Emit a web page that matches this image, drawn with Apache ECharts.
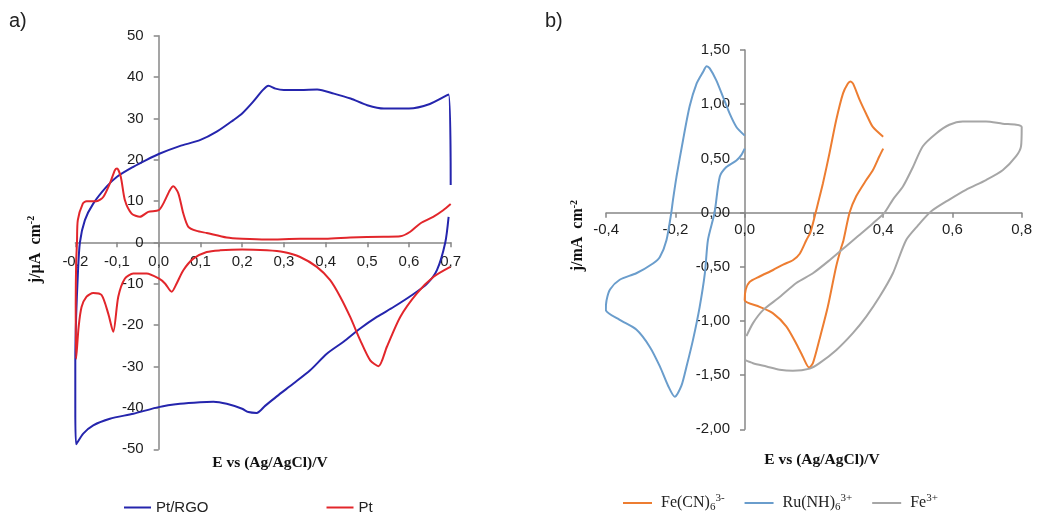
<!DOCTYPE html>
<html><head><meta charset="utf-8">
<script src="https://cdn.jsdelivr.net/npm/echarts@6/dist/echarts.min.js"></script>
<style>html,body{margin:0;padding:0;background:#fff}#c{width:1038px;height:516px}</style>
</head><body><div id="c"></div>
<script>
// ---- Panel a) : j / µA cm-2 vs E (V), [E, j] pairs in scan order ----
const ptRgo = [
  [0.695, 6.2], [0.687, 0], [0.667, -6.7], [0.643, -10], [0.603, -13], [0.563, -15.6], [0.523, -18],
  [0.483, -20.8], [0.443, -24], [0.403, -26.9], [0.363, -30.9], [0.323, -34.1], [0.283, -37.2],
  [0.255, -39.5], [0.235, -41.2], [0.215, -41], [0.2, -40.2], [0.163, -39], [0.131, -38.5],
  [0.099, -38.6], [0.051, -39], [0, -39.8], [-0.061, -41.4], [-0.117, -42.6], [-0.157, -44.2],
  [-0.181, -46.2], [-0.198, -48.8], [-0.2, -40], [-0.2, -28.5], [-0.198, -18], [-0.194, -8],
  [-0.189, 0], [-0.177, 5.4], [-0.157, 9.4], [-0.125, 13.5], [-0.1, 15.9], [-0.061, 18.3],
  [-0.029, 20], [0, 21.4], [0.05, 23.3], [0.1, 24.8], [0.139, 26.8], [0.179, 29.6], [0.2, 31.2],
  [0.226, 34], [0.25, 36.9], [0.263, 37.9], [0.28, 37.2], [0.3, 36.9], [0.34, 36.9], [0.38, 37],
  [0.42, 36], [0.46, 34.8], [0.5, 33.2], [0.54, 32.4], [0.6, 32.4], [0.65, 33.5], [0.695, 35.8],
  [0.7, 13.9]
];
const pt = [
  [0.699, -5.9], [0.659, -8.3], [0.619, -12.3], [0.579, -18], [0.547, -25.2], [0.527, -29.9],
  [0.507, -28.5], [0.483, -23.6], [0.459, -18], [0.435, -13.1], [0.411, -9.1], [0.379, -5.9],
  [0.339, -3.5], [0.299, -2.3], [0.259, -1.9], [0.2, -1.7], [0.147, -1.9], [0.115, -2.3],
  [0.083, -3.9], [0.059, -6.7], [0.043, -9.9], [0.031, -11.9], [0.015, -9.9], [0, -8.7],
  [-0.029, -7.5], [-0.061, -7.5], [-0.081, -8.7], [-0.097, -13.1], [-0.109, -21.6], [-0.121, -17.2],
  [-0.137, -12.7], [-0.157, -12.2], [-0.173, -13.1], [-0.185, -15.6], [-0.192, -20.4], [-0.198, -28.1],
  [-0.199, -15], [-0.198, -5], [-0.196, 0], [-0.194, 5.4], [-0.182, 9.4], [-0.173, 10], [-0.149, 10],
  [-0.133, 11], [-0.117, 14.3], [-0.105, 17.5], [-0.1, 17.9], [-0.091, 15.9], [-0.081, 10.2],
  [-0.065, 7], [-0.045, 6.2], [-0.025, 7.4], [0, 7.8], [0.011, 9.4], [0.027, 12.7], [0.035, 13.6],
  [0.047, 11.9], [0.059, 7], [0.071, 3.8], [0.091, 2.8], [0.115, 2.3], [0.163, 1.2], [0.2, 0.9],
  [0.259, 0.7], [0.339, 0.9], [0.4, 0.9], [0.459, 1.2], [0.539, 1.4], [0.579, 1.5], [0.603, 2.6],
  [0.627, 4.6], [0.658, 6.2], [0.682, 7.8], [0.7, 9.3]
];
// ---- Panel b) : j / mA cm-2 vs E (V) ----
const feCN = [
  [0.4, 0.70], [0.37, 0.79], [0.351, 0.91], [0.332, 1.04], [0.313, 1.19], [0.305, 1.21], [0.298, 1.19],
  [0.284, 1.10], [0.264, 0.85], [0.245, 0.55], [0.226, 0.27], [0.212, 0.09], [0.205, 0], [0.19, -0.18],
  [0.178, -0.255], [0.159, -0.38], [0.139, -0.44], [0.111, -0.48], [0.082, -0.53], [0.043, -0.59],
  [0.014, -0.64], [0.003, -0.71], [0, -0.81], [0.043, -0.87], [0.082, -0.93], [0.12, -1.05],
  [0.149, -1.21], [0.168, -1.33], [0.186, -1.43], [0.197, -1.39], [0.216, -1.17], [0.24, -0.87],
  [0.264, -0.5], [0.279, -0.32], [0.285, -0.26], [0.303, 0], [0.322, 0.15], [0.351, 0.30],
  [0.37, 0.39], [0.389, 0.52], [0.4, 0.59]
];
const ruNH = [
  [0, 0.71], [-0.024, 0.79], [-0.043, 0.91], [-0.063, 1.07], [-0.082, 1.22], [-0.101, 1.33],
  [-0.11, 1.35], [-0.12, 1.30], [-0.139, 1.19], [-0.159, 0.98], [-0.178, 0.67], [-0.197, 0.33],
  [-0.207, 0.12], [-0.212, 0], [-0.226, -0.255], [-0.245, -0.41], [-0.265, -0.47], [-0.313, -0.56],
  [-0.361, -0.62], [-0.389, -0.71], [-0.399, -0.81], [-0.401, -0.90], [-0.361, -0.99], [-0.313, -1.08],
  [-0.274, -1.24], [-0.245, -1.42], [-0.221, -1.60], [-0.202, -1.70], [-0.183, -1.60], [-0.168, -1.42],
  [-0.149, -1.17], [-0.13, -0.87], [-0.115, -0.56], [-0.106, -0.25], [-0.087, 0], [-0.072, 0.33],
  [-0.053, 0.42], [-0.024, 0.48], [-0.01, 0.53], [0, 0.59]
];
const fe3 = [
  [0.005, -1.14], [0.024, -1.02], [0.053, -0.90], [0.101, -0.78], [0.149, -0.65], [0.197, -0.56],
  [0.245, -0.44], [0.293, -0.31], [0.33, -0.21], [0.37, -0.10], [0.404, 0], [0.428, 0.12],
  [0.457, 0.24], [0.486, 0.42], [0.514, 0.61], [0.553, 0.73], [0.591, 0.81], [0.63, 0.84],
  [0.697, 0.84], [0.745, 0.82], [0.784, 0.81], [0.8, 0.79], [0.798, 0.61], [0.784, 0.52],
  [0.745, 0.39], [0.697, 0.30], [0.639, 0.21], [0.591, 0.12], [0.538, 0.01], [0.5, -0.12],
  [0.466, -0.255], [0.428, -0.56], [0.389, -0.78], [0.351, -0.96], [0.313, -1.11], [0.264, -1.27],
  [0.216, -1.39], [0.188, -1.44], [0.139, -1.46], [0.101, -1.45], [0.063, -1.42], [0.024, -1.39],
  [0, -1.36]
];
const seriesNamesA = ['Pt/RGO', 'Pt'];
const seriesNamesB = ['Fe(CN)₆³⁻', 'Ru(NH)₆³⁺', 'Fe³⁺'];
const legendRichB = {
  'Fe(CN)₆³⁻': '{n|Fe(CN)}{sb|6}{sp|3-}',
  'Ru(NH)₆³⁺': '{n|Ru(NH)}{sb|6}{sp|3+}',
  'Fe³⁺': '{n|Fe}{sp|3+}'
};
const xTitle = 'E vs (Ag/AgCl)/V';

const comma = (v, d) => (Math.abs(v) < 1e-9 ? 0 : v).toFixed(d).replace('.', ',');
const axisCol = '#878787';
const labCol = '#1e1e1e';
const sans = 'Liberation Sans, Arial, sans-serif';
const serif = 'Liberation Serif, Times New Roman, serif';

// grid boxes (px); axis offsets put each axis line through zero of the other axis
const gridA = { left: 75.3, right: 587.3, top: 35.7, bottom: 66.7 };
const gridB = { left: 606.2, right: 16.3, top: 50, bottom: 86.7 };

function xAx(grid, min, max, interval, off, gap, lblMargin, namePad) {
  return {
    type: 'value', gridIndex: grid, min, max, interval, position: 'bottom', offset: off,
    axisLine: { onZero: false, lineStyle: { color: axisCol, width: 1.5 } },
    axisTick: { show: true, length: 5, lineStyle: { color: axisCol, width: 1.5 } },
    splitLine: { show: false },
    axisLabel: { formatter: v => comma(v, 1), color: labCol, fontFamily: sans, fontSize: 15, margin: lblMargin },
    name: xTitle, nameLocation: 'middle', nameGap: gap, nameMoveOverlap: false,
    nameTextStyle: { fontFamily: serif, fontWeight: 'bold', fontSize: 15.5, color: '#111', padding: namePad }
  };
}
function yAx(grid, min, max, interval, dec, off, name, gap, namePad) {
  return {
    type: 'value', gridIndex: grid, min, max, interval, position: 'left', offset: off,
    axisLine: { onZero: false, lineStyle: { color: axisCol, width: 1.5 } },
    axisTick: { show: true, length: 5, lineStyle: { color: axisCol, width: 1.5 } },
    splitLine: { show: false },
    axisLabel: { formatter: v => comma(v, dec), color: labCol, fontFamily: sans, fontSize: 15, margin: 15 },
    name: name, nameLocation: 'middle', nameGap: gap, nameRotate: 90, nameMoveOverlap: false,
    nameTextStyle: {
      fontFamily: serif, fontWeight: 'bold', fontSize: 16, color: '#111', padding: namePad,
      rich: {
        t: { fontFamily: serif, fontWeight: 'bold', fontSize: 16, color: '#111', lineHeight: 18, verticalAlign: 'middle' },
        s: { fontFamily: serif, fontWeight: 'bold', fontSize: 10, color: '#111', lineHeight: 18, verticalAlign: 'top' }
      }
    }
  };
}

const chart = echarts.init(document.getElementById('c'), null, { renderer: 'canvas' });
const opt = {
  animation: false,
  backgroundColor: '#fff',
  title: [
    { text: 'a)', left: 4, top: 6, textStyle: { fontFamily: sans, fontSize: 20, fontWeight: 'normal', color: '#222' } },
    { text: 'b)', left: 540, top: 6, textStyle: { fontFamily: sans, fontSize: 20, fontWeight: 'normal', color: '#222' } }
  ],
  grid: [
    Object.assign({ containLabel: false, outerBoundsMode: 'none' }, gridA),
    Object.assign({ containLabel: false, outerBoundsMode: 'none' }, gridB)
  ],
  xAxis: [
    xAx(0, -0.2, 0.7, 0.1, -207, 213, 12, [0, 0, 0, 14]),
    xAx(1, -0.4, 0.8, 0.2, -216.6, 239, 10, [0, 0, 0, 16])
  ],
  yAxis: [
    yAx(0, -50, 50, 10, 0, -83.4, '{t|j/µA  cm}{s|-2}', 114, [0, 14, 0, 0]),
    yAx(1, -2, 1.5, 0.5, 2, -138.8, '{t|j/mA  cm}{s|-2}', 158, [0, 0, 0, 8])
  ],
  legend: [
    {
      data: seriesNamesA, left: 124, top: 500, padding: 0, icon: 'rect', itemWidth: 27, itemHeight: 2,
      itemGap: 118, textStyle: { fontFamily: sans, fontSize: 15, color: '#222' }
    },
    {
      data: seriesNamesB, left: 623, top: 493, padding: 0, icon: 'rect', itemWidth: 29, itemHeight: 2,
      itemGap: 20, formatter: n => legendRichB[n],
      textStyle: {
        fontFamily: serif, fontSize: 16, color: '#222',
        rich: {
          n: { fontFamily: serif, fontSize: 16, color: '#222', lineHeight: 20, verticalAlign: 'middle', padding: [0, 0, 0, 4] },
          sb: { fontFamily: serif, fontSize: 11, color: '#222', lineHeight: 20, verticalAlign: 'bottom' },
          sp: { fontFamily: serif, fontSize: 11, color: '#222', lineHeight: 20, verticalAlign: 'top' }
        }
      }
    }
  ],
  series: [
    { name: seriesNamesA[0], type: 'line', xAxisIndex: 0, yAxisIndex: 0, data: ptRgo, showSymbol: false, symbol: 'none', smooth: 0.25, color: '#2525ad', lineStyle: { width: 2, color: '#2525ad' } },
    { name: seriesNamesA[1], type: 'line', xAxisIndex: 0, yAxisIndex: 0, data: pt, showSymbol: false, symbol: 'none', smooth: 0.25, color: '#e2262b', lineStyle: { width: 2, color: '#e2262b' } },
    { name: seriesNamesB[0], type: 'line', xAxisIndex: 1, yAxisIndex: 1, data: feCN, showSymbol: false, symbol: 'none', smooth: 0.25, color: '#ed7d31', lineStyle: { width: 2, color: '#ed7d31' } },
    { name: seriesNamesB[1], type: 'line', xAxisIndex: 1, yAxisIndex: 1, data: ruNH, showSymbol: false, symbol: 'none', smooth: 0.25, color: '#6a9dcc', lineStyle: { width: 2, color: '#6a9dcc' } },
    { name: seriesNamesB[2], type: 'line', xAxisIndex: 1, yAxisIndex: 1, data: fe3, showSymbol: false, symbol: 'none', smooth: 0.25, color: '#a6a6a6', lineStyle: { width: 2, color: '#a6a6a6' } }
  ]
};
chart.setOption(opt);
</script></body></html>
